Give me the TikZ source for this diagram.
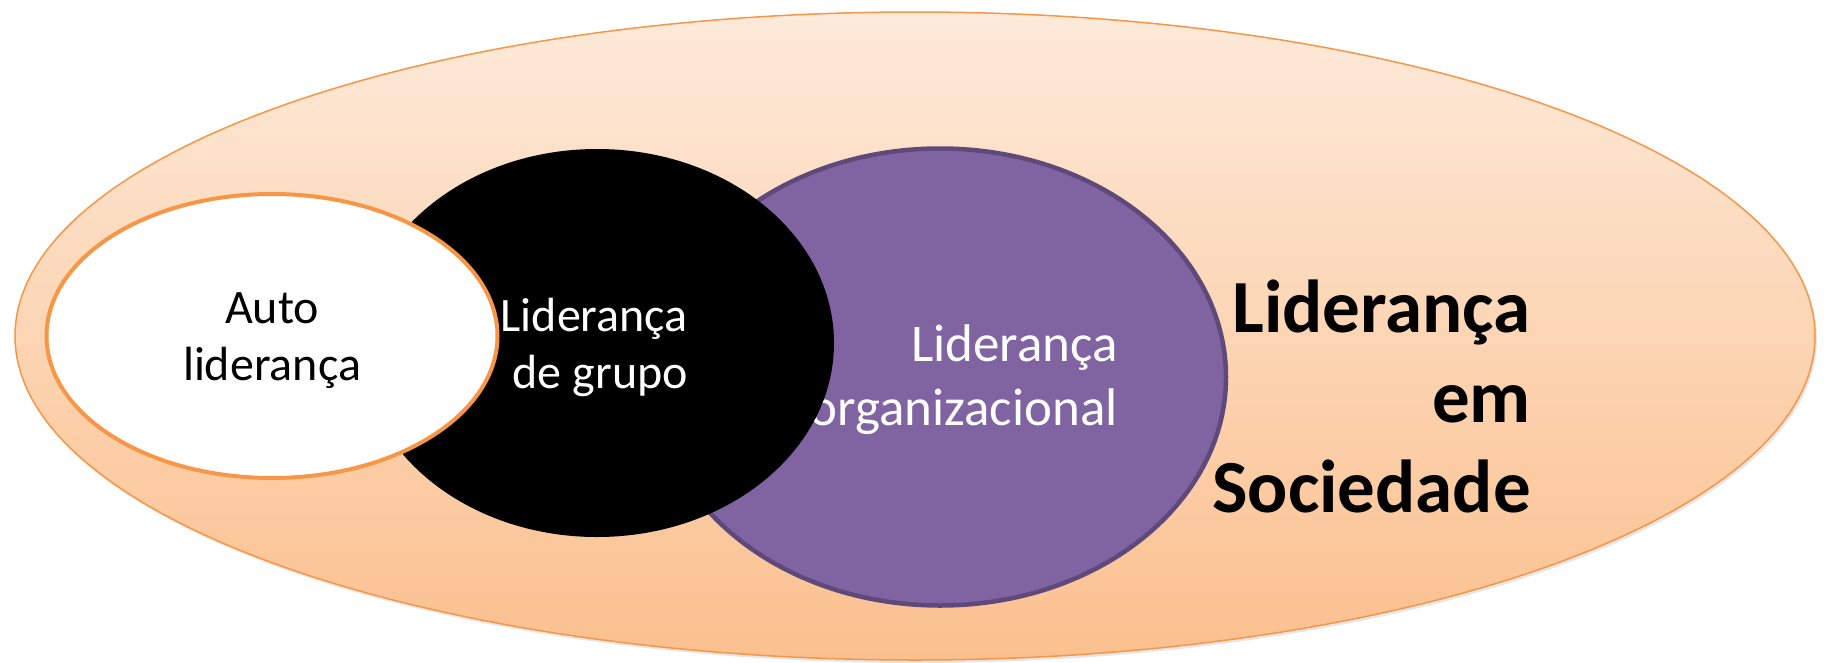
\documentclass[tikz,border=0pt]{standalone}
\usepackage{fontspec}
\setmainfont{Carlito}
\usetikzlibrary{shapes.geometric,shadows}
\definecolor{peachtop}{HTML}{FDEADA}
\definecolor{peachbot}{HTML}{FBC08E}
\definecolor{orangeline}{HTML}{F79646}
\definecolor{violetfill}{HTML}{8064A2}
\definecolor{violetline}{HTML}{5F497A}
\begin{document}
\begin{tikzpicture}[x=1pt,y=-1pt]
    \tikzstyle{oval}=[ellipse, inner sep=0pt, outer sep=0pt]
    \tikzstyle{smalltxt}=[font=\fontsize{48}{57}\selectfont, inner sep=0pt]
    \tikzstyle{midtxt}=[font=\fontsize{53}{64}\selectfont, text=white, inner sep=0pt]
    \tikzstyle{bigtxt}=[font=\bfseries\fontsize{75}{90}\selectfont, inner sep=0pt]
    \useasboundingbox (0,0) rectangle (1829,662);
    \node[oval, minimum width=1800pt, minimum height=648pt, draw=orangeline, line width=1.5pt,
          top color=peachtop, bottom color=peachbot,
          drop shadow={shadow xshift=2pt, shadow yshift=-3pt, opacity=0.2}] (soc) at (915,336) {};
    \node[oval, minimum width=572pt, minimum height=457pt, fill=violetfill, draw=violetline, line width=4.5pt] (org) at (940,377) {};
    \node[midtxt, anchor=base east, align=right] (orgtxt) at (1118,425) {Liderança\\organizacional};
    \node[oval, minimum width=474pt, minimum height=388pt, fill=black] (grp) at (597,343) {};
    \node[smalltxt, text=white, anchor=base east, align=right] (grptxt) at (688,388) {Liderança\\de grupo};
    \node[oval, minimum width=451pt, minimum height=284pt, fill=white, draw=orangeline, line width=4pt] (auto) at (272,336) {};
    \node[smalltxt, anchor=base, align=center] (autotxt) at (272,380) {Auto\\liderança};
    \node[bigtxt, anchor=base east, align=right] (soctxt) at (1531,512) {Liderança\\em\\Sociedade};
    %\draw (auto) (grp) (org) (soc);
  \end{tikzpicture}
\end{document}
